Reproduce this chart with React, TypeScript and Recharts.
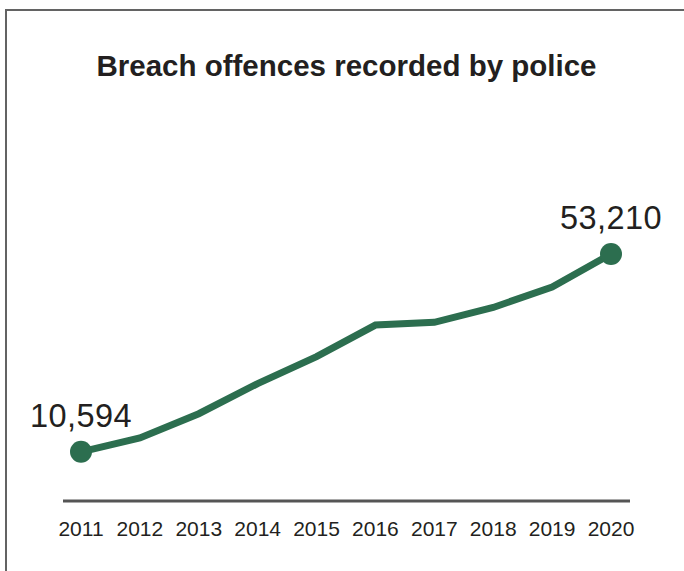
import { LineChart, Line, XAxis, YAxis, LabelList } from "recharts";

const FONT = "'Liberation Sans', Arial, sans-serif";
const GREEN = "#2c6e4f";
const INK = "#231f20";

const YEARS = ["2011", "2012", "2013", "2014", "2015", "2016", "2017", "2018", "2019", "2020"];
const OFFENCES = [10594, 13600, 18800, 25300, 31100, 37900, 38500, 41700, 46100, 53210];

const data = YEARS.map((year, i) => ({ year, offences: OFFENCES[i] }));
const FIRST = OFFENCES[0];
const LAST = OFFENCES[OFFENCES.length - 1];

// only the first and last points get a dot
function EndDot(props: any) {
  const { cx, cy, value, index } = props;
  const v = Array.isArray(value) ? value[1] : value;
  if (v !== FIRST && v !== LAST) return <g key={`d${index}`} />;
  return <circle key={`d${index}`} cx={cx} cy={cy} r={11} fill={GREEN} />;
}

function EndLabel(props: any) {
  const { x, y, value } = props;
  if (value !== FIRST && value !== LAST) return null;
  return (
    <text x={x} y={y - 25} textAnchor="middle" fill={INK} fontFamily={FONT} fontSize={32.5} letterSpacing={0.4}>
      {Number(value).toLocaleString("en-GB")}
    </text>
  );
}

export default function App() {
  return (
    <div style={{ position: "absolute", left: 0, top: 0, width: 684, height: 571, overflow: "hidden", background: "#fff" }}>
      <div
        style={{
          position: "absolute", left: 5, top: 9, width: 700, height: 600,
          borderLeft: "2px solid #636363", borderTop: "2px solid #636363",
        }}
      />
      <div
        style={{
          position: "absolute", left: 0, width: 693, top: 49, textAlign: "center",
          fontFamily: FONT, fontWeight: "bold", fontSize: 29.5, lineHeight: "34px", color: INK,
        }}
      >
        Breach offences recorded by police
      </div>
      <div style={{ position: "absolute", left: 0, top: 0 }}>
        <LineChart width={684} height={571} data={data} margin={{ top: 222.5, right: 54, bottom: 30, left: 63 }}>
          <XAxis
            dataKey="year"
            height={40}
            padding={{ left: 18, right: 19 }}
            axisLine={{ stroke: "#555", strokeWidth: 3 }}
            tickLine={false}
            tickMargin={14}
            interval={0}
            tick={{ fill: INK, fontSize: 21, fontFamily: FONT }}
          />
          <YAxis hide domain={[0, 60000]} />
          <Line
            type="linear"
            dataKey="offences"
            stroke={GREEN}
            strokeWidth={7}
            dot={EndDot}
            activeDot={false}
            isAnimationActive={false}
          >
            <LabelList dataKey="offences" content={EndLabel} />
          </Line>
        </LineChart>
      </div>
    </div>
  );
}
